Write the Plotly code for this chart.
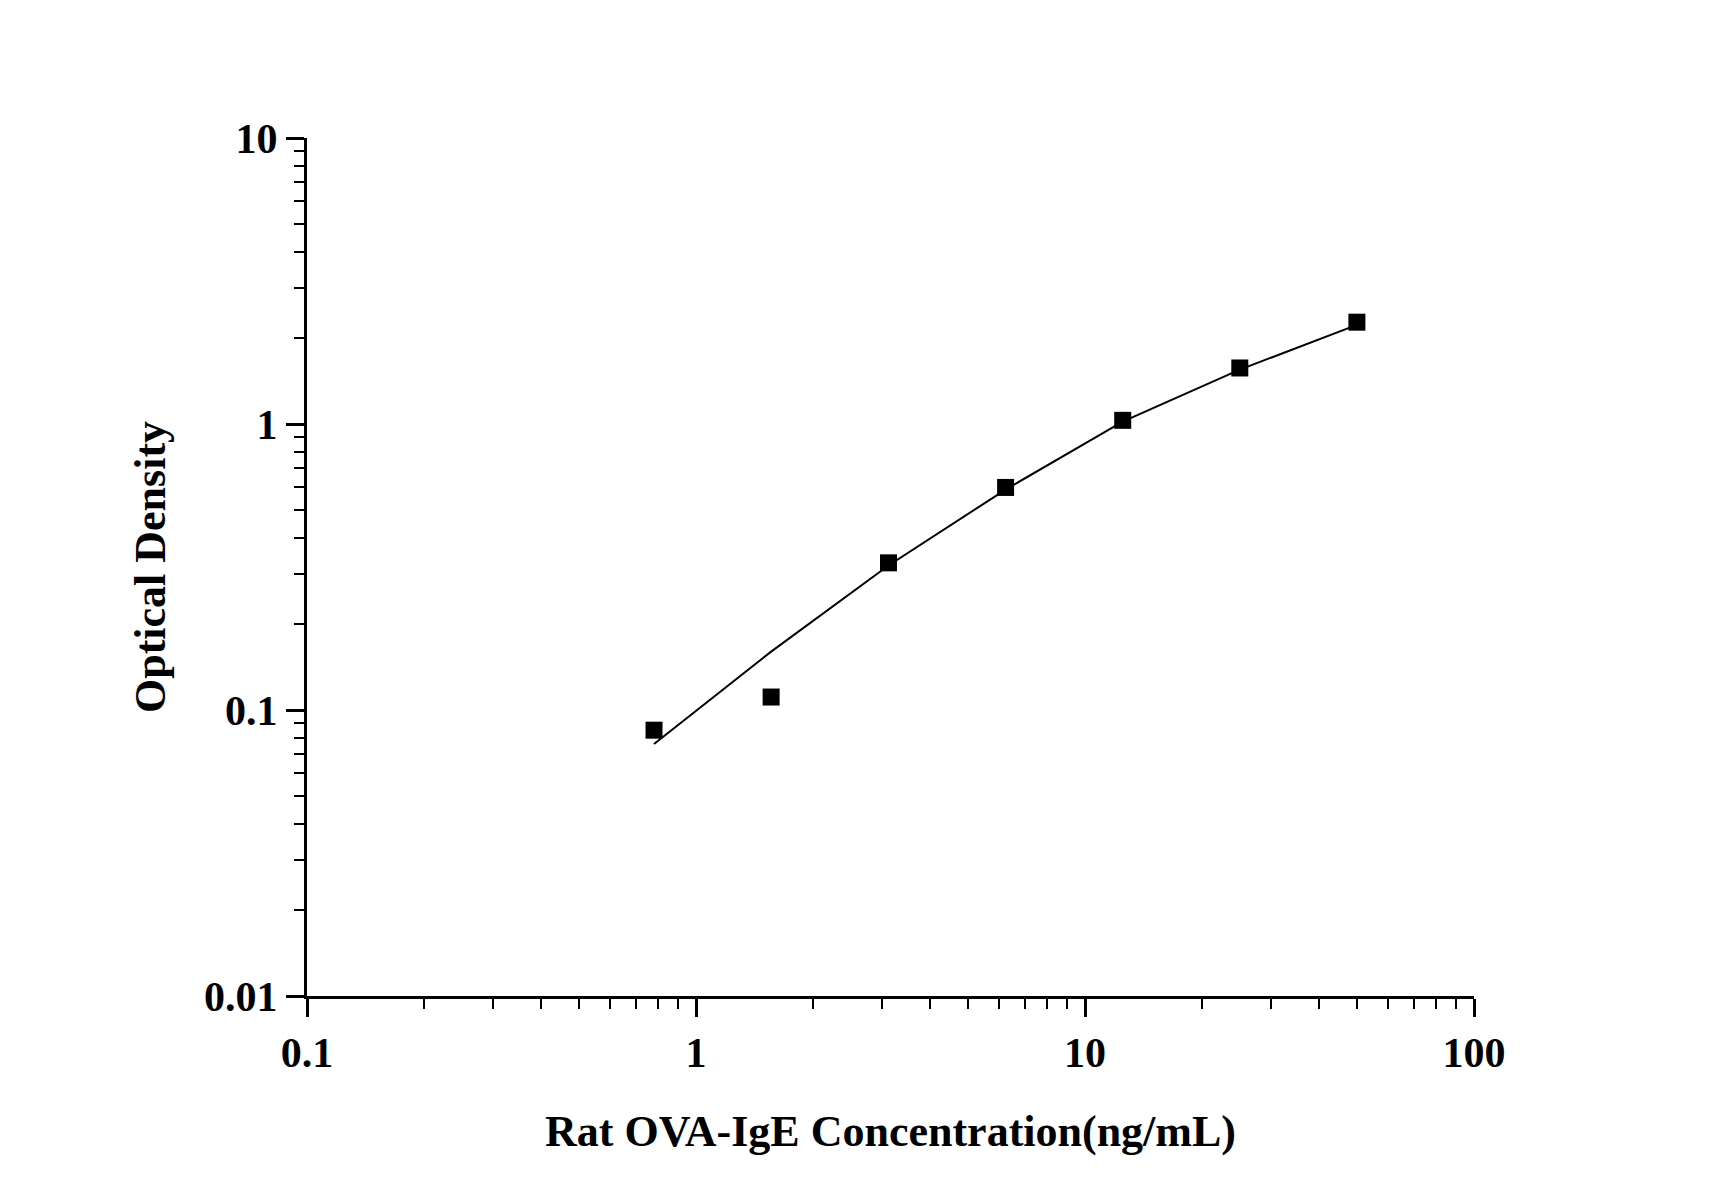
import plotly.graph_objects as go

conc = [0.78, 1.56, 3.125, 6.25, 12.5, 25, 50]
od = [0.085, 0.111, 0.327, 0.60, 1.03, 1.57, 2.27]
fit_od = [0.076, 0.16, 0.32, 0.59, 1.02, 1.55, 2.22]

minor_x = [m * 10 ** e for e in (-1, 0, 1) for m in range(2, 10)]
minor_y = [m * 10 ** e for e in (-2, -1, 0) for m in range(2, 10)]

tfont = dict(family="Liberation Serif", color="black", size=42, weight="bold")
title_font = dict(family="Liberation Serif", color="black", size=44)

fig = go.Figure()
fig.add_trace(go.Scatter(x=conc, y=fit_od, mode="lines",
                         line=dict(color="black", width=2)))
fig.add_trace(go.Scatter(x=conc, y=od, mode="markers",
                         marker=dict(symbol="square", size=17, color="black")))

axis = dict(type="log", showline=True, linecolor="black", linewidth=3,
            ticks="outside", ticklen=18, tickwidth=3, tickcolor="black",
            showgrid=False, zeroline=False, tickfont=tfont)
fig.update_layout(
    width=1712, height=1196, showlegend=False,
    plot_bgcolor="white", paper_bgcolor="white",
    margin=dict(l=299, r=246, t=130, b=208),
    xaxis=dict(axis, range=[-1, 2], tickvals=[0.1, 1, 10, 100],
               ticktext=["0.1", "1", "10", "100"],
               minor=dict(tickvals=minor_x, ticks="outside", ticklen=10,
                          tickwidth=2, tickcolor="black", showgrid=False),
               title=dict(text="<b>Rat OVA-IgE Concentration(ng/mL)</b>",
                          font=title_font, standoff=40)),
    yaxis=dict(axis, range=[-2, 1], tickvals=[0.01, 0.1, 1, 10],
               ticktext=["0.01", "0.1", "1", "10"],
               minor=dict(tickvals=minor_y, ticks="outside", ticklen=10,
                          tickwidth=2, tickcolor="black", showgrid=False),
               title=dict(text="<b>Optical Density</b>",
                          font=title_font, standoff=25)),
)
fig.write_html("out.html")
